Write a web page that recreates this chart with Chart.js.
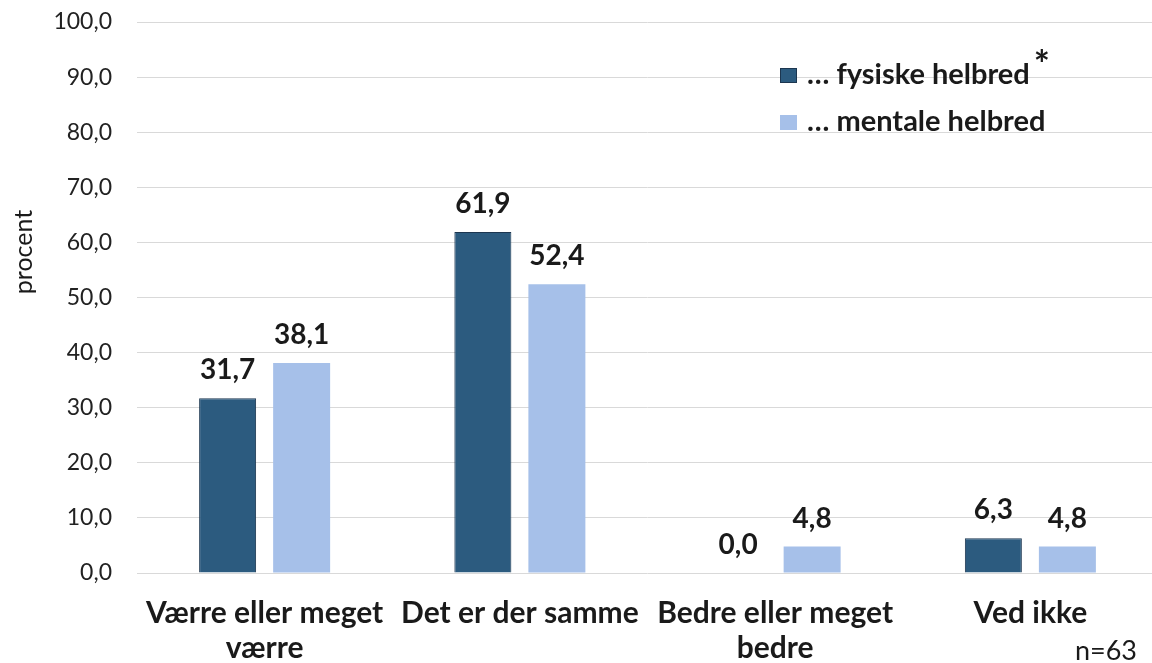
<!DOCTYPE html>
<html>
<head>
<meta charset="utf-8">
<script src="https://cdn.jsdelivr.net/npm/chart.js@4"></script>
<style>
  html, body { margin: 0; padding: 0; background: #fff; overflow: hidden; }
  #wrap { width: 1158px; height: 663px; }
</style>
</head>
<body>
<div id="wrap"><canvas id="chart"></canvas></div>
<script>
// chart data
const categories = [["Værre eller meget", "værre"], "Det er der samme", ["Bedre eller meget", "bedre"], "Ved ikke"];
const fysiske = [31.7, 61.9, 0.0, 6.3];
const mentale = [38.1, 52.4, 4.8, 4.8];
const seriesLabels = ["… fysiske helbred", "… mentale helbred"];
const yTicks = [0, 10, 20, 30, 40, 50, 60, 70, 80, 90, 100];
const yTitle = "procent";
const sampleNote = "n=63";

const DARK = "#2C5B7F";
const LIGHT = "#A6C0E9";
const FONT = "Lato, 'Open Sans', sans-serif";
const TEXT = "#1a1a1a";

const fmt = v => v.toFixed(1).replace(".", ",");

// value labels above each bar
const valueLabels = {
  id: "valueLabels",
  afterDatasetsDraw(chart) {
    const ctx = chart.ctx;
    ctx.save();
    ctx.font = "bold 28px " + FONT;
    ctx.fillStyle = TEXT;
    ctx.textAlign = "center";
    ctx.textBaseline = "alphabetic";
    chart.data.datasets.forEach((ds, i) => {
      chart.getDatasetMeta(i).data.forEach((bar, j) => {
        ctx.fillText(fmt(ds.data[j]), bar.x, bar.y - 19);
      });
    });
    ctx.restore();
  }
};

// legend inside plot, y title, sample size note
const extras = {
  id: "extras",
  afterDraw(chart) {
    const ctx = chart.ctx;
    ctx.save();

    // legend
    ctx.textAlign = "left";
    ctx.textBaseline = "alphabetic";
    chart.data.datasets.forEach((ds, i) => {
      const top = 68 + i * 47;
      ctx.fillStyle = ds.backgroundColor;
      ctx.fillRect(780, top, 17, 15);
      if (ds.borderWidth) {
        ctx.strokeStyle = ds.borderColor;
        ctx.lineWidth = 1;
        ctx.strokeRect(780.5, top + 0.5, 16, 14);
      }
      ctx.font = "bold 29px " + FONT;
      ctx.fillStyle = TEXT;
      ctx.fillText(ds.label, 807, top + 16);
      if (i === 0) {
        const w = ctx.measureText(ds.label).width;
        ctx.font = "bold 38px " + FONT;
        ctx.fillText("*", 807 + w + 4, top + 10);
      }
    });

    // y axis title
    ctx.font = "25px " + FONT;
    ctx.fillStyle = TEXT;
    ctx.translate(24, 252);
    ctx.rotate(-Math.PI / 2);
    ctx.textAlign = "center";
    ctx.textBaseline = "middle";
    ctx.fillText(yTitle, 0, 0);
    ctx.setTransform(1, 0, 0, 1, 0, 0);

    // n=63
    ctx.font = "27px " + FONT;
    ctx.textAlign = "right";
    ctx.textBaseline = "alphabetic";
    ctx.fillText(sampleNote, 1137, 660);

    ctx.restore();
  }
};

new Chart(document.getElementById("chart"), {
  type: "bar",
  data: {
    labels: categories,
    datasets: [
      {
        label: seriesLabels[0],
        data: fysiske,
        backgroundColor: DARK,
        borderColor: "#1c3650",
        borderWidth: 1,
        barPercentage: 0.77,
        categoryPercentage: 0.58
      },
      {
        label: seriesLabels[1],
        data: mentale,
        backgroundColor: LIGHT,
        borderWidth: 0,
        barPercentage: 0.77,
        categoryPercentage: 0.58
      }
    ]
  },
  options: {
    responsive: true,
    maintainAspectRatio: false,
    animation: false,
    layout: { autoPadding: false, padding: { top: 22, right: 0, bottom: 0, left: 0 } },
    plugins: {
      legend: { display: false },
      tooltip: { enabled: false }
    },
    scales: {
      x: {
        grid: { display: false, drawTicks: false },
        border: { display: false },
        ticks: {
          color: TEXT,
          font: { family: FONT, size: 30, weight: "bold", lineHeight: 1.17 },
          padding: 23,
          maxRotation: 0,
          autoSkip: false
        },
        afterFit(scale) { scale.height = 90; }
      },
      y: {
        min: 0,
        max: 100,
        grid: { color: "#d9d9d9", drawTicks: false },
        border: { display: false },
        afterBuildTicks(scale) { scale.ticks = yTicks.map(v => ({ value: v })); },
        ticks: {
          color: "#222",
          font: { family: FONT, size: 23 },
          padding: 25,
          callback: v => fmt(v)
        },
        afterFit(scale) {
          scale.width = 137;
          // tick padding would otherwise push the plot top down
          scale.paddingTop = 0;
          scale.paddingBottom = 0;
        }
      }
    }
  },
  plugins: [valueLabels, extras]
});
</script>
</body>
</html>
